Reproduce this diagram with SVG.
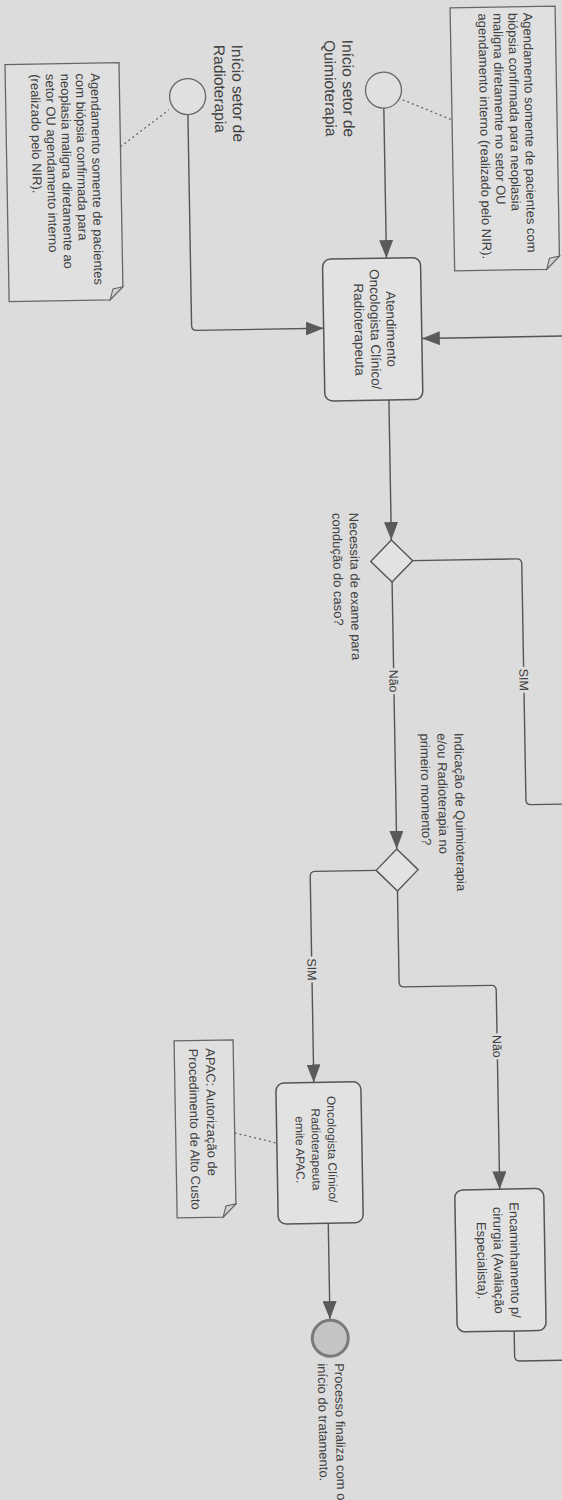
<svg xmlns="http://www.w3.org/2000/svg" width="562" height="1500" viewBox="0 0 562 1500">
<defs>
<style>
.bg{fill:#dcdcdc}
text{font-family:"Liberation Sans",Arial,sans-serif;fill:#404040}
.t13{font-size:13px}
.t12{font-size:12px}
.t14{font-size:13.5px}
.t15{font-size:15.5px}
.lbl{font-size:12.5px}
.flow{fill:none;stroke:#555;stroke-width:1.4}
.assoc{fill:none;stroke:#666;stroke-width:1.3;stroke-dasharray:2 3}
.task{fill:#e2e2e2;stroke:#555;stroke-width:1.5}
.gw{fill:#e2e2e2;stroke:#555;stroke-width:1.4}
.start{fill:#e0e0e0;stroke:#666;stroke-width:1.3}
.end{fill:#c4c4c4;stroke:#7a7a7a;stroke-width:3}
.note{fill:#e0e0e0;stroke:#666;stroke-width:1.3}
.fold{fill:#d0d0d0;stroke:#666;stroke-width:1.1}
.gap{fill:#dcdcdc}
</style>
<marker id="arr" viewBox="0 0 18 14" refX="18" refY="7" markerWidth="18" markerHeight="14" markerUnits="userSpaceOnUse" orient="auto">
<path d="M0,0 L18,7 L0,14 z" fill="#5a5a5a"/>
</marker>
</defs>
<rect class="bg" x="0" y="0" width="562" height="1500"/>
<g transform="rotate(-1 281 750)">

<g id="connectors">
<path class="flow" d="M395,110 V260" marker-end="url(#arr)"/>
<path class="flow" d="M199,113 V324 Q199,329 204,329 H331" marker-end="url(#arr)"/>
<path class="flow" d="M585,341 H429" marker-end="url(#arr)"/>
<path class="flow" d="M395,402 V542" marker-end="url(#arr)"/>
<path class="flow" d="M416,563 H520 Q525,563 525,568 V804 Q525,809 530,809 H590"/>
<path class="flow" d="M395,584 V851" marker-end="url(#arr)"/>
<path class="flow" d="M374,872 H313 Q308,872 308,877 V1083" marker-end="url(#arr)"/>
<path class="flow" d="M395,893 V984 Q395,989 400,989 H487 Q492,989 492,994 V1193" marker-end="url(#arr)"/>
<path class="flow" d="M504,1335 V1360 Q504,1365 509,1365 H600"/>
<path class="flow" d="M320,1224 V1320" marker-end="url(#arr)"/>
<path class="assoc" d="M414,102 L463,123"/>
<path class="assoc" d="M131,144 L180,108"/>
<path class="assoc" d="M228,1132 L270,1143"/>
<rect class="gap" x="518" y="671" width="14" height="26"/>
<text class="lbl" text-anchor="middle" transform="translate(520.6,684) rotate(90)">SIM</text>
<rect class="gap" x="388" y="670" width="14" height="26"/>
<text class="lbl" text-anchor="middle" transform="translate(390.6,683) rotate(90)">Não</text>
<rect class="gap" x="301" y="957" width="14" height="26"/>
<text class="lbl" text-anchor="middle" transform="translate(303.6,970) rotate(90)">SIM</text>
<rect class="gap" x="485" y="1037" width="14" height="26"/>
<text class="lbl" text-anchor="middle" transform="translate(487.6,1050) rotate(90)">Não</text>
</g>

<g id="note-quimio">
<path class="note" d="M463,11 H568 V261 L555,274 H463 Z"/>
<path class="fold" d="M568,261 L558,263 L555,274 Z"/>
<text class="t13" transform="translate(536,17) rotate(90)"><tspan x="0" dy="0">Agendamento somente de pacientes com</tspan><tspan x="0" dy="15">biópsia confirmada para neoplasia</tspan><tspan x="0" dy="15">maligna diretamente no setor OU</tspan><tspan x="0" dy="15">agendamento interno (realizado pelo NIR).</tspan></text>
</g>

<g id="start-quimio">
<circle class="start" cx="395" cy="92" r="18"/>
<text class="t15" transform="translate(354.5,41) rotate(90)"><tspan x="0" dy="0">Início setor de</tspan><tspan x="0" dy="18">Quimioterapia</tspan></text>
</g>

<g id="start-radio">
<circle class="start" cx="199" cy="95" r="18"/>
<text class="t15" transform="translate(244,44) rotate(90)"><tspan x="0" dy="0">Início setor de</tspan><tspan x="0" dy="18">Radioterapia</tspan></text>
</g>

<g id="note-radio">
<path class="note" d="M17,60 H131 V284 L118,297 H17 Z"/>
<path class="fold" d="M131,284 L121,286 L118,297 Z"/>
<text class="t13" transform="translate(102.5,70) rotate(90)"><tspan x="0" dy="0">Agendamento somente de pacientes</tspan><tspan x="0" dy="15">com biópsia confirmada para</tspan><tspan x="0" dy="15">neoplasia maligna diretamente ao</tspan><tspan x="0" dy="15">setor OU agendamento interno</tspan><tspan x="0" dy="15">(realizado pelo NIR).</tspan></text>
</g>

<g id="task-atendimento">
<rect class="task" x="331" y="260" width="98" height="142" rx="8"/>
<text class="t14" text-anchor="middle" transform="translate(394,331) rotate(90)"><tspan x="0" dy="0">Atendimento</tspan><tspan x="0" dy="16">Oncologista Clínico/</tspan><tspan x="0" dy="16">Radioterapeuta</tspan></text>
</g>

<g id="gw-exame">
<polygon class="gw" points="395,542 416,563 395,584 374,563"/>
<text class="t13" transform="translate(353.5,514) rotate(90)"><tspan x="0" dy="0">Necessita de exame para</tspan><tspan x="0" dy="17">condução do caso?</tspan></text>
</g>

<g id="gw-indicacao">
<polygon class="gw" points="395,851 416,872 395,893 374,872"/>
<text class="t13" transform="translate(454.5,736) rotate(90)"><tspan x="0" dy="0">Indicação de Quimioterapia</tspan><tspan x="0" dy="17">e/ou Radioterapia no</tspan><tspan x="0" dy="17">primeiro momento?</tspan></text>
</g>

<g id="task-apac">
<rect class="task" x="270" y="1083" width="85" height="141" rx="8"/>
<text class="t12" text-anchor="middle" transform="translate(321,1150) rotate(90)"><tspan x="0" dy="0">Oncologista Clínico/</tspan><tspan x="0" dy="16">Radioterapeuta</tspan><tspan x="0" dy="16">emite APAC.</tspan></text>
</g>

<g id="note-apac">
<path class="note" d="M169,1039 H228 V1203 L215,1216 H169 Z"/>
<path class="fold" d="M228,1203 L218,1205 L215,1216 Z"/>
<text class="t13" transform="translate(200.5,1047) rotate(90)"><tspan x="0" dy="0">APAC: Autorização de</tspan><tspan x="0" dy="17">Procedimento de Alto Custo</tspan></text>
</g>

<g id="task-encaminhamento">
<rect class="task" x="447" y="1193" width="89" height="142" rx="8"/>
<text class="t13" text-anchor="middle" transform="translate(501.5,1264) rotate(90)"><tspan x="0" dy="0">Encaminhamento p/</tspan><tspan x="0" dy="16.5">cirurgia (Avaliação</tspan><tspan x="0" dy="16.5">Especialista).</tspan></text>
</g>

<g id="end-event">
<circle class="end" cx="320" cy="1339" r="18"/>
<text class="t13" transform="translate(324,1364) rotate(90)"><tspan x="0" dy="0">Processo finaliza com o</tspan><tspan x="0" dy="17">início do tratamento.</tspan></text>
</g>

</g>
</svg>
